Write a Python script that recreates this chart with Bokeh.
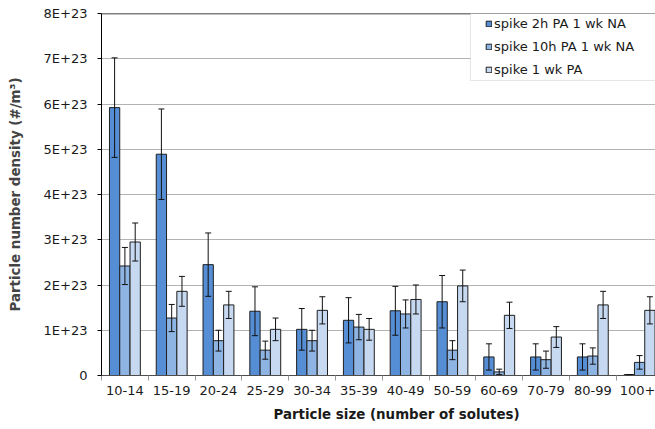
import numpy as np
from bokeh.plotting import figure
from bokeh.models import (Range1d, FixedTicker, Whisker, TeeHead, ColumnDataSource,
                          Legend, LegendItem, Span, BoxAnnotation, Title)
from bokeh.embed import file_html
from bokeh.resources import INLINE

# Particle number density per size bin, in units of 1E+23 #/m^3
categories = ["10-14", "15-19", "20-24", "25-29", "30-34", "35-39",
              "40-49", "50-59", "60-69", "70-79", "80-99", "100+"]
spike_2h = [5.92, 4.89, 2.45, 1.42, 1.02, 1.22, 1.43, 1.63, 0.41, 0.41, 0.41, 0.02]
spike_2h_err = [1.10, 1.00, 0.70, 0.54, 0.46, 0.50, 0.54, 0.58, 0.29, 0.29, 0.29, 0.00]
spike_10h = [2.42, 1.27, 0.77, 0.56, 0.77, 1.07, 1.36, 0.56, 0.08, 0.35, 0.43, 0.29]
spike_10h_err = [0.41, 0.30, 0.23, 0.20, 0.23, 0.28, 0.31, 0.21, 0.06, 0.19, 0.18, 0.15]
spike_1wk = [2.95, 1.86, 1.56, 1.02, 1.44, 1.02, 1.68, 1.98, 1.33, 0.85, 1.56, 1.44]
spike_1wk_err = [0.42, 0.33, 0.30, 0.25, 0.30, 0.24, 0.32, 0.35, 0.29, 0.23, 0.30, 0.30]

series_names = ["spike 2h PA 1 wk NA", "spike 10h PA 1 wk NA", "spike 1 wk PA"]
y_tick_values = [0, 1, 2, 3, 4, 5, 6, 7, 8]
y_tick_labels = ["0", "1E+23", "2E+23", "3E+23", "4E+23", "5E+23", "6E+23", "7E+23", "8E+23"]

FONT = "DejaVu Sans"
colors = ["#558ED5", "#8EB4E3", "#C6D9F1"]
bar_w = 0.22

p = figure(width=655, height=429, output_backend="svg", toolbar_location=None,
           x_range=Range1d(0, 11.84), y_range=Range1d(0, 8),
           min_border_left=101, min_border_right=0, min_border_top=13,
           min_border_bottom=54)
p.outline_line_color = None
p.background_fill_color = "white"

n = len(categories)
centers = np.arange(n) + 0.5
values = [spike_2h, spike_10h, spike_1wk]
errors = [spike_2h_err, spike_10h_err, spike_1wk_err]

renderers = []
for k, (vals, errs, col) in enumerate(zip(values, errors, colors)):
    v = np.array(vals)
    e = np.array(errs)
    src = ColumnDataSource(dict(x=centers + (k - 1) * bar_w, top=v,
                                lo=v - e, hi=v + e))
    r = p.vbar(x="x", top="top", width=bar_w, bottom=0, source=src,
               fill_color=col, line_color="#1f1f1f", line_width=1)
    renderers.append(r)
    w = Whisker(base="x", lower="lo", upper="hi", source=src, level="annotation",
                line_color="#111111", line_width=1,
                upper_head=TeeHead(size=6, line_color="#111111", line_width=1),
                lower_head=TeeHead(size=6, line_color="#111111", line_width=1))
    p.add_layout(w)

# axes
y_ticker = FixedTicker(ticks=y_tick_values)
p.yaxis.ticker = y_ticker
p.yaxis.major_label_overrides = {v: s for v, s in zip(y_tick_values, y_tick_labels)}
p.yaxis.axis_label = "Particle number density (#/m³)"
p.yaxis.axis_label_text_font = FONT
p.yaxis.axis_label_text_font_style = "bold"
p.yaxis.axis_label_text_font_size = "13.4px"
p.yaxis.axis_label_standoff = 18
p.yaxis.major_label_text_font = FONT
p.yaxis.major_label_text_font_size = "13px"
p.yaxis.major_label_text_color = "#1a1a1a"
p.yaxis.major_tick_out = 4
p.yaxis.major_tick_in = 0
p.yaxis.minor_tick_line_color = None
p.yaxis.major_label_standoff = 10
p.yaxis.axis_line_color = "black"
p.yaxis.major_tick_line_color = "black"

x_ticker = FixedTicker(ticks=list(centers), minor_ticks=list(np.arange(n + 1)))
p.xaxis.ticker = x_ticker
p.xaxis.major_label_overrides = {float(c): s for c, s in zip(centers, categories)}
p.xaxis.major_label_text_font = FONT
p.xaxis.major_label_text_font_size = "13px"
p.xaxis.major_label_text_color = "#1a1a1a"
p.xaxis.major_tick_out = 0
p.xaxis.major_tick_in = 0
p.xaxis.major_tick_line_color = None
p.xaxis.minor_tick_out = 5
p.xaxis.minor_tick_in = 0
p.xaxis.minor_tick_line_color = "#9a9a9a"
p.xaxis.major_label_standoff = 5
p.xaxis.axis_line_color = "#4d4d4d"

p.xgrid.visible = False
p.ygrid.ticker = y_ticker
p.ygrid.grid_line_color = "#b3b3b3"
p.ygrid.grid_line_width = 1

x_title = Title(text="Particle size (number of solutes)", align="left", offset=172,
                text_font=FONT, text_font_size="13.4px", text_font_style="bold",
                text_color="#1a1a1a", standoff=15)
p.add_layout(x_title, "below")

# top border of the plotting area
p.add_layout(Span(location=8, dimension="width", line_color="black", line_width=1.5))

# legend frame and entries
p.add_layout(BoxAnnotation(left=7.885, right=13, top=8, bottom=6.52,
                           fill_color="white", fill_alpha=1,
                           line_color="#a6a6a6", line_width=1))
legend = Legend(items=[LegendItem(label=nm, renderers=[r])
                       for nm, r in zip(series_names, renderers)],
                location=(384, 296), orientation="vertical",
                glyph_width=7, glyph_height=7, label_standoff=2,
                label_height=20, spacing=3, padding=0, margin=0,
                border_line_color=None, background_fill_alpha=0,
                label_text_font=FONT, label_text_font_size="13px",
                label_text_color="#1a1a1a")
p.add_layout(legend)

open("out.html", "w").write(file_html(p, INLINE))
